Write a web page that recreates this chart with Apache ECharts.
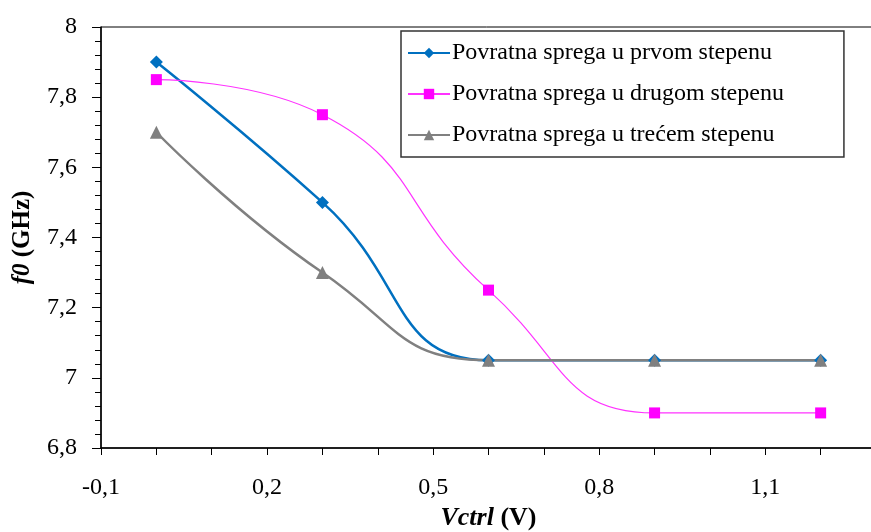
<!DOCTYPE html>
<html>
<head>
<meta charset="utf-8">
<script src="https://cdn.jsdelivr.net/npm/echarts@6/dist/echarts.min.js"></script>
<style>
  html, body { margin: 0; padding: 0; background: #fff; }
  #chart { width: 871px; height: 532px; }
</style>
</head>
<body>
<div id="chart"></div>
<script>
// x values (Vctrl, V) and f0 values (GHz)
var vctrl = [0, 0.3, 0.6, 0.9, 1.2];
var prvom = [7.9, 7.5, 7.05, 7.05, 7.05];
var drugom = [7.85, 7.75, 7.25, 6.9, 6.9];
var trecem = [7.7, 7.3, 7.05, 7.05, 7.05];
var seriesNames = ['Povratna sprega u prvom stepenu', 'Povratna sprega u drugom stepenu', 'Povratna sprega u trećem stepenu'];

function pairs(ys) {
    return vctrl.map(function (x, i) { return [x, ys[i]]; });
}

function comma(v) {
    return String(+v.toFixed(2)).replace('.', ',');
}

var font = '"Liberation Serif", "Times New Roman", serif';

var mychart = echarts.init(document.getElementById('chart'));
var option = {
    animation: false,
    textStyle: { fontFamily: font },
    grid: {
        left: 101,
        top: 27,
        right: -5,
        bottom: 84,
        outerBoundsMode: 'none',
        containLabel: false,
        show: true,
        borderColor: '#000',
        borderWidth: 1
    },
    legend: {
        orient: 'vertical',
        left: 401,
        top: 31,
        padding: [10, 60, 10, 6],
        itemGap: 17,
        itemWidth: 42,
        itemHeight: 13,
        borderColor: '#333',
        borderWidth: 1.5,
        textStyle: { fontFamily: font, fontSize: 24, color: '#000', padding: [0, 0, 0, -3] },
        data: seriesNames
    },
    xAxis: {
        type: 'value',
        min: -0.1,
        max: 1.3,
        interval: 0.3,
        name: '{i|Vctrl}{b| (V)}',
        nameLocation: 'middle',
        nameGap: 57,
        nameTextStyle: {
            rich: {
                i: { fontFamily: font, fontSize: 26, fontWeight: 'bold', fontStyle: 'italic', color: '#000' },
                b: { fontFamily: font, fontSize: 26, fontWeight: 'bold', color: '#000' }
            }
        },
        axisLine: { onZero: false, lineStyle: { color: '#000', width: 1.5 } },
        axisTick: { show: true, length: 7, lineStyle: { color: '#000' } },
        minorTick: { show: true, splitNumber: 3, length: 7, lineStyle: { color: '#000' } },
        splitLine: { show: false },
        axisLabel: {
            margin: 28,
            fontFamily: font,
            fontSize: 24,
            color: '#000',
            showMaxLabel: false,
            formatter: comma
        }
    },
    yAxis: {
        type: 'value',
        min: 6.8,
        max: 8,
        interval: 0.2,
        name: '{i|f0}{b| (GHz)}',
        nameLocation: 'middle',
        nameRotate: 90,
        nameGap: 66,
        nameTextStyle: {
            rich: {
                i: { fontFamily: font, fontSize: 25, fontWeight: 'bold', fontStyle: 'italic', color: '#000' },
                b: { fontFamily: font, fontSize: 25, fontWeight: 'bold', color: '#000' }
            }
        },
        axisLine: { show: true, onZero: false, lineStyle: { color: '#000', width: 1.5 } },
        axisTick: { show: true, length: 9, lineStyle: { color: '#000' } },
        minorTick: { show: true, splitNumber: 5, length: 6, lineStyle: { color: '#000' } },
        splitLine: { show: false },
        axisLabel: {
            margin: 24,
            fontFamily: font,
            fontSize: 24,
            color: '#000',
            formatter: comma
        }
    },
    series: [
        {
            name: seriesNames[0],
            type: 'line',
            smooth: 0.5,
            data: pairs(prvom),
            symbol: 'diamond',
            symbolSize: 13,
            color: '#0070C0',
            lineStyle: { width: 2.5, color: '#0070C0' },
            itemStyle: { color: '#0070C0' }
        },
        {
            name: seriesNames[1],
            type: 'line',
            smooth: 0.5,
            data: pairs(drugom),
            symbol: 'rect',
            symbolSize: 11,
            color: '#FF00FF',
            lineStyle: { width: 1.2, color: '#FF33FF' },
            itemStyle: { color: '#FF00FF' }
        },
        {
            name: seriesNames[2],
            type: 'line',
            smooth: 0.5,
            data: pairs(trecem),
            symbol: 'triangle',
            symbolSize: 13,
            color: '#808080',
            lineStyle: { width: 2.5, color: '#808080' },
            itemStyle: { color: '#808080' }
        }
    ]
};
mychart.setOption(option);
</script>
</body>
</html>
